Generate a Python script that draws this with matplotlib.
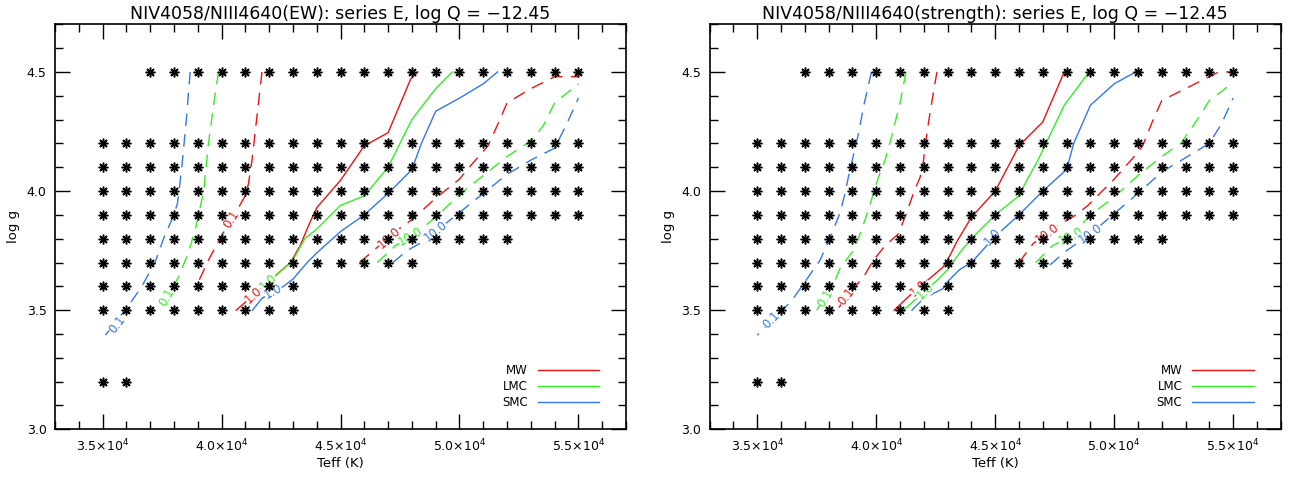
import numpy as np
import matplotlib
matplotlib.use("Agg")
import matplotlib.pyplot as plt
from matplotlib.lines import Line2D
from matplotlib.ticker import MultipleLocator, FuncFormatter

plt.rcParams["font.family"] = ["DejaVu Sans"]
plt.rcParams["mathtext.fontset"] = "dejavusans"

# model grid: Teff columns and, per log g row, the first/last Teff computed
TEFF_COLS = [35000, 36000, 37000, 38000, 39000, 40000, 41000, 42000, 43000, 44000, 45000,
             46000, 47000, 48000, 49000, 50000, 51000, 52000, 53000, 54000, 55000]
GRID_LOGG = [4.5, 4.2, 4.1, 4.0, 3.9, 3.8, 3.7, 3.6, 3.5, 3.2]
GRID_FIRST = [37000, 35000, 35000, 35000, 35000, 35000, 35000, 35000, 35000, 35000]
GRID_LAST = [55000, 55000, 55000, 55000, 55000, 52000, 48000, 43000, 43000, 36000]

# ---- NIV4058/NIII4640 (EW) contours, (Teff, log g) ----
EW_MW_01 = [(41700, 4.5), (41490, 4.315), (41280, 4.13), (41130, 4.03), (40990, 3.98),
            (40430, 3.88), (40010, 3.815), (39450, 3.71), (39030, 3.62)]
EW_LMC_01 = [(39870, 4.5), (39650, 4.35), (39450, 4.2), (39250, 4.0), (39100, 3.93),
             (38900, 3.84), (38600, 3.74), (38200, 3.64), (37400, 3.5)]
EW_SMC_01 = [(38680, 4.5), (38520, 4.3), (38330, 4.1), (38150, 3.95), (38000, 3.9),
             (37600, 3.81), (37200, 3.7), (36650, 3.6), (36100, 3.52), (35000, 3.38)]
EW_MW_1 = [(40620, 3.5), (42050, 3.626), (42900, 3.70), (43300, 3.77), (43700, 3.865),
           (44000, 3.93), (45000, 4.045), (46000, 4.19), (47000, 4.245), (47950, 4.47),
           (48250, 4.5)]
EW_LMC_1 = [(41050, 3.5), (41900, 3.61), (43000, 3.71), (43500, 3.80), (44000, 3.84),
            (45000, 3.94), (46000, 3.98), (47000, 4.10), (48000, 4.30), (49000, 4.43),
            (49700, 4.5)]
EW_SMC_1 = [(41300, 3.5), (41700, 3.55), (42600, 3.60), (43000, 3.63), (43600, 3.70),
            (44000, 3.74), (45000, 3.83), (46000, 3.90), (47000, 3.99), (48000, 4.09),
            (48400, 4.20), (49000, 4.335), (50000, 4.39), (51000, 4.45), (51600, 4.5)]
EW_MW_10 = [(45800, 3.7), (46500, 3.76), (47300, 3.83), (48000, 3.88), (49000, 3.97),
            (50000, 4.05), (50500, 4.11), (51200, 4.19), (51700, 4.30), (52000, 4.37),
            (53000, 4.43), (54000, 4.48), (55000, 4.48)]
EW_LMC_10 = [(46550, 3.7), (47300, 3.77), (48000, 3.81), (49000, 3.89), (50000, 3.985),
             (51000, 4.065), (52000, 4.145), (53000, 4.21), (53500, 4.27), (54000, 4.37),
             (55000, 4.45)]
EW_SMC_10 = [(47200, 3.7), (47800, 3.75), (48500, 3.79), (49000, 3.83), (50000, 3.91),
             (51000, 3.99), (52000, 4.07), (53000, 4.13), (54000, 4.18), (54500, 4.28),
             (55000, 4.39)]
# contour label positions (Teff, log g)
EW_LABEL_POS = {"MW_01": (40430, 3.88), "LMC_01": (37700, 3.556), "SMC_01": (35600, 3.44),
                "MW_1": (41340, 3.563), "LMC_1": (41950, 3.617), "SMC_1": (42150, 3.58),
                "MW_10": (47050, 3.805), "LMC_10": (47950, 3.81), "SMC_10": (49000, 3.83)}

# ---- NIV4058/NIII4640 (strength) contours ----
ST_MW_01 = [(42550, 4.5), (42380, 4.40), (42200, 4.29), (42030, 4.17), (41990, 4.13),
            (41850, 4.06), (41560, 3.99), (41280, 3.91), (40930, 3.82), (40370, 3.77),
            (39880, 3.71), (39530, 3.65), (38340, 3.5)]
ST_LMC_01 = [(41250, 4.5), (41000, 4.37), (40650, 4.23), (40370, 4.13), (40100, 4.06),
             (39880, 3.99), (39670, 3.92), (39320, 3.82), (39040, 3.75), (38500, 3.68),
             (38200, 3.61), (37500, 3.5)]
ST_SMC_01 = [(39800, 4.5), (39500, 4.37), (39250, 4.24), (38830, 4.06), (38690, 3.99),
             (38480, 3.91), (38130, 3.82), (37640, 3.71), (37080, 3.63), (36450, 3.54),
             (35000, 3.395)]
ST_MW_1 = [(40750, 3.5), (41500, 3.57), (42800, 3.68), (43100, 3.73), (43400, 3.79),
           (44000, 3.89), (45000, 4.0), (46000, 4.19), (47000, 4.29), (47900, 4.5)]
ST_LMC_1 = [(41150, 3.5), (41700, 3.55), (42500, 3.62), (43000, 3.67), (43500, 3.74),
            (44000, 3.80), (45000, 3.90), (46000, 3.98), (46300, 4.04), (46800, 4.13),
            (47900, 4.36), (48950, 4.5)]
ST_SMC_1 = [(41500, 3.5), (42000, 3.55), (42800, 3.59), (43000, 3.62), (43500, 3.67),
            (44000, 3.70), (45000, 3.81), (46000, 3.90), (47000, 4.0), (48000, 4.09),
            (48300, 4.2), (49000, 4.36), (50000, 4.45), (50900, 4.5)]
ST_MW_10 = [(46000, 3.7), (46600, 3.78), (47700, 3.86), (48400, 3.90), (48900, 3.94),
            (50000, 4.05), (50800, 4.14), (51200, 4.19), (51600, 4.29), (52000, 4.38),
            (53000, 4.43), (54000, 4.48), (54400, 4.5), (55000, 4.5)]
ST_LMC_10 = [(46700, 3.7), (47400, 3.77), (48200, 3.81), (49000, 3.90), (50000, 3.975),
             (51000, 4.065), (52000, 4.145), (52800, 4.2), (53500, 4.30), (54000, 4.38),
             (55000, 4.455)]
ST_SMC_10 = [(47300, 3.69), (48000, 3.75), (49000, 3.82), (50000, 3.905), (51000, 3.99),
             (52000, 4.08), (53000, 4.14), (54000, 4.2), (54500, 4.28), (55000, 4.39)]
ST_LABEL_POS = {"MW_01": (38760, 3.556), "LMC_01": (37850, 3.552), "SMC_01": (35600, 3.46),
                "MW_1": (41770, 3.593), "LMC_1": (42050, 3.58), "SMC_1": (44900, 3.81),
                "MW_10": (47180, 3.82), "LMC_10": (48170, 3.81), "SMC_10": (49000, 3.82)}

GALAXIES = ["MW", "LMC", "SMC"]
LEVELS = ["01", "1", "10"]
LEVEL_TEXT = {"01": "0.1", "1": "1.0", "10": "10.0"}
COLORS = {"MW": "#ee1111", "LMC": "#33ee22", "SMC": "#3377ee"}

EW_LINES = {"MW_01": EW_MW_01, "LMC_01": EW_LMC_01, "SMC_01": EW_SMC_01,
            "MW_1": EW_MW_1, "LMC_1": EW_LMC_1, "SMC_1": EW_SMC_1,
            "MW_10": EW_MW_10, "LMC_10": EW_LMC_10, "SMC_10": EW_SMC_10}
ST_LINES = {"MW_01": ST_MW_01, "LMC_01": ST_LMC_01, "SMC_01": ST_SMC_01,
            "MW_1": ST_MW_1, "LMC_1": ST_LMC_1, "SMC_1": ST_SMC_1,
            "MW_10": ST_MW_10, "LMC_10": ST_LMC_10, "SMC_10": ST_SMC_10}


def teff_fmt(v, pos):
    return r"$%.1f{\times}10^{4}$" % (v / 1e4)


def label_angle(ax, pts, x, y):
    """Angle (deg, screen space) of the contour segment closest to (x, y)."""
    disp = ax.transData.transform(np.array(pts, dtype=float))
    p = ax.transData.transform((x, y))
    best, ang = None, 0.0
    for a, b in zip(disp[:-1], disp[1:]):
        d = np.linalg.norm((a + b) / 2 - p)
        if best is None or d < best:
            best = d
            ang = np.degrees(np.arctan2(b[1] - a[1], b[0] - a[0]))
    if ang > 90:
        ang -= 180
    elif ang < -90:
        ang += 180
    return ang


def draw_panel(ax, lines, label_pos, title):
    ax.set_xlim(33000, 57000)
    ax.set_ylim(3.0, 4.7)

    for g, first, last in zip(GRID_LOGG, GRID_FIRST, GRID_LAST):
        teffs = [t for t in TEFF_COLS if first <= t <= last]
        ax.plot(teffs, [g] * len(teffs), linestyle="none", marker=(8, 2, 0),
                markersize=7, markeredgewidth=1.1, color="black", zorder=5)

    for gal in GALAXIES:
        for lev in LEVELS:
            key = f"{gal}_{lev}"
            pts = lines[key]
            ls = "-" if lev == "1" else (0, (9, 6))
            ax.plot([p[0] for p in pts], [p[1] for p in pts], color=COLORS[gal],
                    lw=1.0, linestyle=ls, zorder=2)
            lx, ly = label_pos[key]
            ax.text(lx, ly, LEVEL_TEXT[lev], color=COLORS[gal], fontsize=8.5,
                    rotation=label_angle(ax, pts, lx, ly), rotation_mode="anchor",
                    ha="center", va="center", zorder=3,
                    bbox=dict(facecolor="white", edgecolor="none", pad=0.2))

    ax.xaxis.set_major_locator(MultipleLocator(5000))
    ax.xaxis.set_minor_locator(MultipleLocator(1000))
    ax.yaxis.set_major_locator(MultipleLocator(0.5))
    ax.yaxis.set_minor_locator(MultipleLocator(0.1))
    ax.xaxis.set_major_formatter(FuncFormatter(teff_fmt))
    ax.yaxis.set_major_formatter(FuncFormatter(lambda v, p: "%.1f" % v))
    ax.tick_params(which="both", direction="in", top=True, right=True, labelsize=9,
                   width=1.0, color="black")
    ax.tick_params(which="major", length=11, pad=6)
    ax.tick_params(which="minor", length=6)
    for sp in ax.spines.values():
        sp.set_linewidth(1.2)

    ax.set_xlabel("Teff (K)", fontsize=9.5, labelpad=2)
    ax.set_ylabel("log g", fontsize=9.5, labelpad=5)
    ax.set_title(title, fontsize=12.5, pad=4)

    handles = [Line2D([], [], color=COLORS[g], lw=1.0) for g in GALAXIES]
    ax.legend(handles, GALAXIES, loc="lower right", bbox_to_anchor=(0.953, 0.051),
              markerfirst=False, frameon=False, fontsize=8.5, handlelength=5.2,
              handletextpad=0.85, labelspacing=0.22, borderpad=0, borderaxespad=0)


fig = plt.figure(figsize=(12.89, 4.79), dpi=100)
ax1 = fig.add_axes([55 / 1289, 49.7 / 479, 571 / 1289, 405 / 479])
ax2 = fig.add_axes([709.7 / 1289, 49.7 / 479, 571 / 1289, 405 / 479])

draw_panel(ax1, EW_LINES, EW_LABEL_POS,
           "NIV4058/NIII4640(EW): series E, log Q = \u221212.45")
draw_panel(ax2, ST_LINES, ST_LABEL_POS,
           "NIV4058/NIII4640(strength): series E, log Q = \u221212.45")

fig.savefig("out.png", dpi=100)
